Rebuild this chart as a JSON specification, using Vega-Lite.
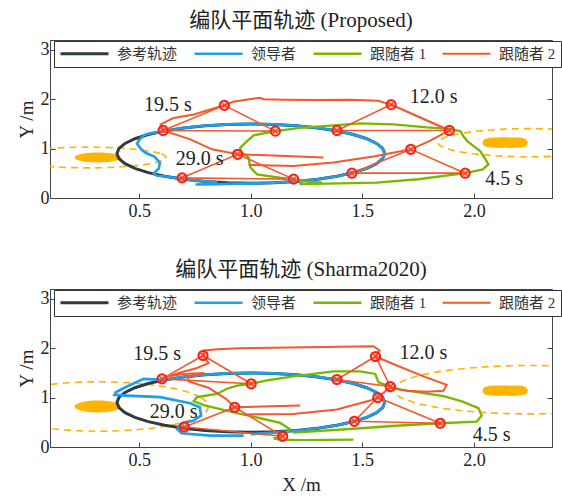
{
"$schema":"https://vega.github.io/schema/vega-lite/v6.json",
"padding":{"left":16,"top":9,"right":4,"bottom":4},
"spacing":37,
"config":{
 "font":"Liberation Serif, DejaVu Serif, serif",
 "view":{"stroke":"#444","strokeWidth":1},
 "axis":{"grid":false,"domainColor":"#444","tickColor":"#444","tickSize":-5,"labelFont":"Liberation Serif, DejaVu Serif, serif","labelFontSize":18,"labelColor":"#222","titleFont":"Liberation Serif, DejaVu Serif, serif","titleFontSize":19,"titleFontWeight":"normal","titleColor":"#222","labelPadding":6},
 "axisX":{"labelPadding":9,"titlePadding":6},
 "title":{"font":"Liberation Serif, DejaVu Serif, Noto Sans CJK SC, serif","fontSize":21,"fontWeight":"normal","color":"#222","offset":9},
 "legend":{"orient":"none","legendX":4,"legendY":1,"direction":"horizontal","columns":4,"title":null,"symbolType":"M-4,0H4","symbolSize":144,"symbolOffset":18,"labelOffset":25,"labelFontSize":15,"labelFont":"Liberation Serif, DejaVu Serif, Noto Sans CJK SC, serif","labelColor":"#333","fillColor":"white","strokeColor":"#333","padding":5,"columnPadding":11}
},
"datasets":{
"ref":[
{"o":0,"x":1.6,"y":0.9},{"o":1,"x":1.5909,"y":1.0042},{"o":2,"x":1.5638,"y":1.1052},{"o":3,"x":1.5196,"y":1.2},{"o":4,"x":1.4596,"y":1.2857},{"o":5,"x":1.3857,"y":1.3596},{"o":6,"x":1.3,"y":1.4196},{"o":7,"x":1.2052,"y":1.4638},{"o":8,"x":1.1042,"y":1.4909},{"o":9,"x":1.0,"y":1.5},{"o":10,"x":0.8958,"y":1.4909},{"o":11,"x":0.7948,"y":1.4638},{"o":12,"x":0.7,"y":1.4196},{"o":13,"x":0.6143,"y":1.3596},{"o":14,"x":0.5404,"y":1.2857},{"o":15,"x":0.4804,"y":1.2},{"o":16,"x":0.4362,"y":1.1052},{"o":17,"x":0.4091,"y":1.0042},{"o":18,"x":0.4,"y":0.9},{"o":19,"x":0.4091,"y":0.7958},{"o":20,"x":0.4362,"y":0.6948},{"o":21,"x":0.4804,"y":0.6},{"o":22,"x":0.5404,"y":0.5143},{"o":23,"x":0.6143,"y":0.4404},{"o":24,"x":0.7,"y":0.3804},{"o":25,"x":0.7948,"y":0.3362},{"o":26,"x":0.8958,"y":0.3091},{"o":27,"x":1.0,"y":0.3},{"o":28,"x":1.1042,"y":0.3091},{"o":29,"x":1.2052,"y":0.3362},{"o":30,"x":1.3,"y":0.3804},{"o":31,"x":1.3857,"y":0.4404},{"o":32,"x":1.4596,"y":0.5143},{"o":33,"x":1.5196,"y":0.6},{"o":34,"x":1.5638,"y":0.6948},{"o":35,"x":1.5909,"y":0.7958},{"o":36,"x":1.6,"y":0.9}
],
"traj":[
{"p":1,"s":"领导者","o":1,"x":0.752,"y":0.274},{"p":1,"s":"领导者","o":2,"x":0.85,"y":0.282},{"p":1,"s":"领导者","o":3,"x":0.95,"y":0.29},{"p":1,"s":"领导者","o":4,"x":1.05,"y":0.298},{"p":1,"s":"领导者","o":5,"x":1.1042,"y":0.3091},{"p":1,"s":"领导者","o":6,"x":1.2052,"y":0.3362},{"p":1,"s":"领导者","o":7,"x":1.3,"y":0.3804},{"p":1,"s":"领导者","o":8,"x":1.3857,"y":0.4404},{"p":1,"s":"领导者","o":9,"x":1.4596,"y":0.5143},{"p":1,"s":"领导者","o":10,"x":1.5196,"y":0.6},{"p":1,"s":"领导者","o":11,"x":1.5638,"y":0.6948},{"p":1,"s":"领导者","o":12,"x":1.5909,"y":0.7958},{"p":1,"s":"领导者","o":13,"x":1.6,"y":0.9},{"p":1,"s":"领导者","o":14,"x":1.5909,"y":1.0042},{"p":1,"s":"领导者","o":15,"x":1.5638,"y":1.1052},{"p":1,"s":"领导者","o":16,"x":1.5196,"y":1.2},{"p":1,"s":"领导者","o":17,"x":1.4596,"y":1.2857},{"p":1,"s":"领导者","o":18,"x":1.3857,"y":1.3596},{"p":1,"s":"领导者","o":19,"x":1.3,"y":1.4196},{"p":1,"s":"领导者","o":20,"x":1.2052,"y":1.4638},{"p":1,"s":"领导者","o":21,"x":1.1042,"y":1.4909},{"p":1,"s":"领导者","o":22,"x":1.0,"y":1.5},{"p":1,"s":"领导者","o":23,"x":0.8958,"y":1.4909},{"p":1,"s":"领导者","o":24,"x":0.7948,"y":1.4638},{"p":1,"s":"领导者","o":25,"x":0.7,"y":1.4196},{"p":1,"s":"领导者","o":26,"x":0.6143,"y":1.3596},{"p":1,"s":"领导者","o":27,"x":0.55,"y":1.31},{"p":1,"s":"领导者","o":28,"x":0.52,"y":1.27},{"p":1,"s":"领导者","o":29,"x":0.5,"y":1.18},{"p":1,"s":"领导者","o":30,"x":0.49,"y":1.1},{"p":1,"s":"领导者","o":31,"x":0.51,"y":0.98},{"p":1,"s":"领导者","o":32,"x":0.53,"y":0.91},{"p":1,"s":"领导者","o":33,"x":0.568,"y":0.84},{"p":1,"s":"领导者","o":34,"x":0.592,"y":0.72},{"p":1,"s":"领导者","o":35,"x":0.588,"y":0.6},{"p":1,"s":"领导者","o":36,"x":0.565,"y":0.5},{"p":1,"s":"领导者","o":37,"x":0.58,"y":0.45},{"p":1,"s":"领导者","o":38,"x":0.6143,"y":0.4404},{"p":1,"s":"领导者","o":39,"x":0.7,"y":0.3804},{"p":1,"s":"领导者","o":40,"x":0.7948,"y":0.3362},{"p":1,"s":"领导者","o":41,"x":0.85,"y":0.32},
{"p":1,"s":"跟随者 1","o":1,"x":1.218,"y":0.28},{"p":1,"s":"跟随者 1","o":2,"x":1.4,"y":0.295},{"p":1,"s":"跟随者 1","o":3,"x":1.565,"y":0.31},{"p":1,"s":"跟随者 1","o":4,"x":1.75,"y":0.38},{"p":1,"s":"跟随者 1","o":5,"x":1.961,"y":0.503},{"p":1,"s":"跟随者 1","o":6,"x":2.04,"y":0.58},{"p":1,"s":"跟随者 1","o":7,"x":2.065,"y":0.68},{"p":1,"s":"跟随者 1","o":8,"x":2.05,"y":0.8},{"p":1,"s":"跟随者 1","o":9,"x":2.028,"y":0.95},{"p":1,"s":"跟随者 1","o":10,"x":1.97,"y":1.15},{"p":1,"s":"跟随者 1","o":11,"x":1.953,"y":1.25},{"p":1,"s":"跟随者 1","o":12,"x":1.94,"y":1.35},{"p":1,"s":"跟随者 1","o":13,"x":1.89,"y":1.4},{"p":1,"s":"跟随者 1","o":14,"x":1.789,"y":1.43},{"p":1,"s":"跟随者 1","o":15,"x":1.64,"y":1.49},{"p":1,"s":"跟随者 1","o":16,"x":1.49,"y":1.51},{"p":1,"s":"跟随者 1","o":17,"x":1.372,"y":1.47},{"p":1,"s":"跟随者 1","o":18,"x":1.22,"y":1.42},{"p":1,"s":"跟随者 1","o":19,"x":1.11,"y":1.354},{"p":1,"s":"跟随者 1","o":20,"x":1.013,"y":1.27},{"p":1,"s":"跟随者 1","o":21,"x":0.983,"y":1.15},{"p":1,"s":"跟随者 1","o":22,"x":0.953,"y":1.02},{"p":1,"s":"跟随者 1","o":23,"x":0.955,"y":0.93},{"p":1,"s":"跟随者 1","o":24,"x":0.99,"y":0.82},{"p":1,"s":"跟随者 1","o":25,"x":0.998,"y":0.62},{"p":1,"s":"跟随者 1","o":26,"x":1.028,"y":0.48},{"p":1,"s":"跟随者 1","o":27,"x":1.13,"y":0.41},{"p":1,"s":"跟随者 1","o":28,"x":1.192,"y":0.382},{"p":1,"s":"跟随者 1","o":29,"x":1.25,"y":0.33},{"p":1,"s":"跟随者 1","o":30,"x":1.32,"y":0.31},
{"p":1,"s":"跟随者 2","o":1,"x":0.99,"y":0.67},{"p":1,"s":"跟随者 2","o":2,"x":1.19,"y":0.65},{"p":1,"s":"跟随者 2","o":3,"x":1.37,"y":0.72},{"p":1,"s":"跟随者 2","o":4,"x":1.55,"y":0.84},{"p":1,"s":"跟随者 2","o":5,"x":1.717,"y":0.986},{"p":1,"s":"跟随者 2","o":6,"x":1.8,"y":1.15},{"p":1,"s":"跟随者 2","o":7,"x":1.89,"y":1.368},{"p":1,"s":"跟随者 2","o":8,"x":1.76,"y":1.63},{"p":1,"s":"跟随者 2","o":9,"x":1.629,"y":1.891},{"p":1,"s":"跟随者 2","o":10,"x":1.57,"y":1.97},{"p":1,"s":"跟随者 2","o":11,"x":1.45,"y":1.99},{"p":1,"s":"跟随者 2","o":12,"x":1.3,"y":1.985},{"p":1,"s":"跟随者 2","o":13,"x":1.15,"y":1.99},{"p":1,"s":"跟随者 2","o":14,"x":1.06,"y":2.0},{"p":1,"s":"跟随者 2","o":15,"x":1.04,"y":2.03},{"p":1,"s":"跟随者 2","o":16,"x":0.98,"y":1.99},{"p":1,"s":"跟随者 2","o":17,"x":0.92,"y":1.95},{"p":1,"s":"跟随者 2","o":18,"x":0.88,"y":1.877},{"p":1,"s":"跟随者 2","o":19,"x":0.745,"y":1.69},{"p":1,"s":"跟随者 2","o":20,"x":0.654,"y":1.62},{"p":1,"s":"跟随者 2","o":21,"x":0.595,"y":1.49},{"p":1,"s":"跟随者 2","o":22,"x":0.607,"y":1.368},{"p":1,"s":"跟随者 2","o":23,"x":0.729,"y":1.187},{"p":1,"s":"跟随者 2","o":24,"x":0.826,"y":0.986},{"p":1,"s":"跟随者 2","o":25,"x":0.941,"y":0.885},{"p":1,"s":"跟随者 2","o":26,"x":1.1,"y":0.86},{"p":1,"s":"跟随者 2","o":27,"x":1.326,"y":0.82},
{"p":2,"s":"领导者","o":1,"x":1.0,"y":0.26},{"p":2,"s":"领导者","o":2,"x":1.1042,"y":0.29},{"p":2,"s":"领导者","o":3,"x":1.2052,"y":0.33},{"p":2,"s":"领导者","o":4,"x":1.3,"y":0.3804},{"p":2,"s":"领导者","o":5,"x":1.3857,"y":0.4404},{"p":2,"s":"领导者","o":6,"x":1.4596,"y":0.5143},{"p":2,"s":"领导者","o":7,"x":1.5196,"y":0.6},{"p":2,"s":"领导者","o":8,"x":1.5638,"y":0.6948},{"p":2,"s":"领导者","o":9,"x":1.5909,"y":0.7958},{"p":2,"s":"领导者","o":10,"x":1.6,"y":0.9},{"p":2,"s":"领导者","o":11,"x":1.5909,"y":1.0042},{"p":2,"s":"领导者","o":12,"x":1.5638,"y":1.1052},{"p":2,"s":"领导者","o":13,"x":1.5196,"y":1.2},{"p":2,"s":"领导者","o":14,"x":1.4596,"y":1.2857},{"p":2,"s":"领导者","o":15,"x":1.3857,"y":1.3596},{"p":2,"s":"领导者","o":16,"x":1.3,"y":1.4196},{"p":2,"s":"领导者","o":17,"x":1.2052,"y":1.4638},{"p":2,"s":"领导者","o":18,"x":1.1042,"y":1.4909},{"p":2,"s":"领导者","o":19,"x":1.0,"y":1.5},{"p":2,"s":"领导者","o":20,"x":0.8958,"y":1.4909},{"p":2,"s":"领导者","o":21,"x":0.7948,"y":1.4638},{"p":2,"s":"领导者","o":22,"x":0.7,"y":1.4196},{"p":2,"s":"领导者","o":23,"x":0.6143,"y":1.3596},{"p":2,"s":"领导者","o":24,"x":0.52,"y":1.38},{"p":2,"s":"领导者","o":25,"x":0.438,"y":1.21},{"p":2,"s":"领导者","o":26,"x":0.395,"y":1.11},{"p":2,"s":"领导者","o":27,"x":0.389,"y":1.055},{"p":2,"s":"领导者","o":28,"x":0.445,"y":1.04},{"p":2,"s":"领导者","o":29,"x":0.595,"y":1.01},{"p":2,"s":"领导者","o":30,"x":0.729,"y":0.886},{"p":2,"s":"领导者","o":31,"x":0.771,"y":0.805},{"p":2,"s":"领导者","o":32,"x":0.777,"y":0.636},{"p":2,"s":"领导者","o":33,"x":0.744,"y":0.535},{"p":2,"s":"领导者","o":34,"x":0.685,"y":0.467},{"p":2,"s":"领导者","o":35,"x":0.67,"y":0.365},{"p":2,"s":"领导者","o":36,"x":0.69,"y":0.278},{"p":2,"s":"领导者","o":37,"x":0.819,"y":0.231},{"p":2,"s":"领导者","o":38,"x":0.968,"y":0.231},
{"p":2,"s":"跟随者 1","o":1,"x":1.19,"y":0.29},{"p":2,"s":"跟随者 1","o":2,"x":1.46,"y":0.37},{"p":2,"s":"跟随者 1","o":3,"x":1.65,"y":0.43},{"p":2,"s":"跟随者 1","o":4,"x":1.849,"y":0.481},{"p":2,"s":"跟随者 1","o":5,"x":2.013,"y":0.515},{"p":2,"s":"跟随者 1","o":6,"x":2.035,"y":0.637},{"p":2,"s":"跟随者 1","o":7,"x":2.02,"y":0.785},{"p":2,"s":"跟随者 1","o":8,"x":1.95,"y":0.92},{"p":2,"s":"跟随者 1","o":9,"x":1.864,"y":1.03},{"p":2,"s":"跟随者 1","o":10,"x":1.67,"y":1.16},{"p":2,"s":"跟随者 1","o":11,"x":1.625,"y":1.225},{"p":2,"s":"跟随者 1","o":12,"x":1.572,"y":1.31},{"p":2,"s":"跟随者 1","o":13,"x":1.558,"y":1.48},{"p":2,"s":"跟随者 1","o":14,"x":1.49,"y":1.53},{"p":2,"s":"跟随者 1","o":15,"x":1.371,"y":1.53},{"p":2,"s":"跟随者 1","o":16,"x":1.19,"y":1.43},{"p":2,"s":"跟随者 1","o":17,"x":1.072,"y":1.35},{"p":2,"s":"跟随者 1","o":18,"x":1.002,"y":1.28},{"p":2,"s":"跟随者 1","o":19,"x":0.938,"y":1.245},{"p":2,"s":"跟随者 1","o":20,"x":0.893,"y":1.18},{"p":2,"s":"跟随者 1","o":21,"x":0.848,"y":1.075},{"p":2,"s":"跟随者 1","o":22,"x":0.759,"y":1.01},{"p":2,"s":"跟随者 1","o":23,"x":0.744,"y":0.93},{"p":2,"s":"跟随者 1","o":24,"x":0.789,"y":0.85},{"p":2,"s":"跟随者 1","o":25,"x":0.923,"y":0.7},{"p":2,"s":"跟随者 1","o":26,"x":1.043,"y":0.582},{"p":2,"s":"跟随者 1","o":27,"x":1.132,"y":0.487},{"p":2,"s":"跟随者 1","o":28,"x":1.174,"y":0.365},{"p":2,"s":"跟随者 1","o":29,"x":1.155,"y":0.264},{"p":2,"s":"跟随者 1","o":30,"x":1.143,"y":0.217},{"p":2,"s":"跟随者 1","o":31,"x":1.102,"y":0.176},{"p":2,"s":"跟随者 1","o":32,"x":1.13,"y":0.15},{"p":2,"s":"跟随者 1","o":33,"x":1.22,"y":0.14},{"p":2,"s":"跟随者 1","o":34,"x":1.46,"y":0.15},
{"p":2,"s":"跟随者 2","o":1,"x":0.97,"y":0.66},{"p":2,"s":"跟随者 2","o":2,"x":1.19,"y":0.67},{"p":2,"s":"跟随者 2","o":3,"x":1.386,"y":0.76},{"p":2,"s":"跟随者 2","o":4,"x":1.535,"y":0.94},{"p":2,"s":"跟随者 2","o":5,"x":1.569,"y":1.002},{"p":2,"s":"跟随者 2","o":6,"x":1.6,"y":1.12},{"p":2,"s":"跟随者 2","o":7,"x":1.625,"y":1.2},{"p":2,"s":"跟随者 2","o":8,"x":1.7,"y":1.14},{"p":2,"s":"跟随者 2","o":9,"x":1.79,"y":1.12},{"p":2,"s":"跟随者 2","o":10,"x":1.864,"y":1.14},{"p":2,"s":"跟随者 2","o":11,"x":1.878,"y":1.258},{"p":2,"s":"跟随者 2","o":12,"x":1.78,"y":1.42},{"p":2,"s":"跟随者 2","o":13,"x":1.66,"y":1.64},{"p":2,"s":"跟随者 2","o":14,"x":1.559,"y":1.833},{"p":2,"s":"跟随者 2","o":15,"x":1.577,"y":1.955},{"p":2,"s":"跟随者 2","o":16,"x":1.55,"y":2.04},{"p":2,"s":"跟随者 2","o":17,"x":1.4,"y":2.03},{"p":2,"s":"跟随者 2","o":18,"x":1.25,"y":2.02},{"p":2,"s":"跟随者 2","o":19,"x":1.1,"y":2.01},{"p":2,"s":"跟随者 2","o":20,"x":0.95,"y":2.0},{"p":2,"s":"跟随者 2","o":21,"x":0.85,"y":1.98},{"p":2,"s":"跟随者 2","o":22,"x":0.79,"y":1.955},{"p":2,"s":"跟随者 2","o":23,"x":0.786,"y":1.853},{"p":2,"s":"跟随者 2","o":24,"x":0.811,"y":1.7},{"p":2,"s":"跟随者 2","o":25,"x":0.759,"y":1.6},{"p":2,"s":"跟随者 2","o":26,"x":0.7,"y":1.53},{"p":2,"s":"跟随者 2","o":27,"x":0.62,"y":1.42},{"p":2,"s":"跟随者 2","o":28,"x":0.7,"y":1.48},{"p":2,"s":"跟随者 2","o":29,"x":0.79,"y":1.5},{"p":2,"s":"跟随者 2","o":30,"x":0.72,"y":1.42},{"p":2,"s":"跟随者 2","o":31,"x":0.72,"y":1.33},{"p":2,"s":"跟随者 2","o":32,"x":0.81,"y":1.2},{"p":2,"s":"跟随者 2","o":33,"x":0.89,"y":0.97},{"p":2,"s":"跟随者 2","o":34,"x":0.928,"y":0.805},{"p":2,"s":"跟随者 2","o":35,"x":1.05,"y":0.82},{"p":2,"s":"跟随者 2","o":36,"x":1.222,"y":0.84}
],
"obs":[
{"p":1,"id":"L","o":0,"x":0.62,"y":0.82},{"p":1,"id":"L","o":1,"x":0.5934,"y":0.9004},{"p":1,"id":"L","o":2,"x":0.5175,"y":0.9685},{"p":1,"id":"L","o":3,"x":0.4039,"y":1.014},{"p":1,"id":"L","o":4,"x":0.27,"y":1.03},{"p":1,"id":"L","o":5,"x":0.1361,"y":1.014},{"p":1,"id":"L","o":6,"x":0.0225,"y":0.9685},{"p":1,"id":"L","o":7,"x":-0.0534,"y":0.9004},{"p":1,"id":"L","o":8,"x":-0.08,"y":0.82},{"p":1,"id":"L","o":9,"x":-0.0534,"y":0.7396},{"p":1,"id":"L","o":10,"x":0.0225,"y":0.6715},{"p":1,"id":"L","o":11,"x":0.1361,"y":0.626},{"p":1,"id":"L","o":12,"x":0.27,"y":0.61},{"p":1,"id":"L","o":13,"x":0.4039,"y":0.626},{"p":1,"id":"L","o":14,"x":0.5175,"y":0.6715},{"p":1,"id":"L","o":15,"x":0.5934,"y":0.7396},
{"p":1,"id":"R","o":0,"x":2.66,"y":1.12},{"p":1,"id":"R","o":1,"x":2.6288,"y":1.2291},{"p":1,"id":"R","o":2,"x":2.5399,"y":1.3215},{"p":1,"id":"R","o":3,"x":2.4069,"y":1.3833},{"p":1,"id":"R","o":4,"x":2.25,"y":1.405},{"p":1,"id":"R","o":5,"x":2.0931,"y":1.3833},{"p":1,"id":"R","o":6,"x":1.9601,"y":1.3215},{"p":1,"id":"R","o":7,"x":1.8712,"y":1.2291},{"p":1,"id":"R","o":8,"x":1.84,"y":1.12},{"p":1,"id":"R","o":9,"x":1.8712,"y":1.0109},{"p":1,"id":"R","o":10,"x":1.9601,"y":0.9185},{"p":1,"id":"R","o":11,"x":2.0931,"y":0.8567},{"p":1,"id":"R","o":12,"x":2.25,"y":0.835},{"p":1,"id":"R","o":13,"x":2.4069,"y":0.8567},{"p":1,"id":"R","o":14,"x":2.5399,"y":0.9185},{"p":1,"id":"R","o":15,"x":2.6288,"y":1.0109},
{"p":2,"id":"L","o":0,"x":0.81,"y":0.82},{"p":2,"id":"L","o":1,"x":0.7727,"y":1.0114},{"p":2,"id":"L","o":2,"x":0.6665,"y":1.1736},{"p":2,"id":"L","o":3,"x":0.5075,"y":1.282},{"p":2,"id":"L","o":4,"x":0.32,"y":1.32},{"p":2,"id":"L","o":5,"x":0.1325,"y":1.282},{"p":2,"id":"L","o":6,"x":-0.0265,"y":1.1736},{"p":2,"id":"L","o":7,"x":-0.1327,"y":1.0114},{"p":2,"id":"L","o":8,"x":-0.17,"y":0.82},{"p":2,"id":"L","o":9,"x":-0.1327,"y":0.6287},{"p":2,"id":"L","o":10,"x":-0.0265,"y":0.4665},{"p":2,"id":"L","o":11,"x":0.1325,"y":0.3581},{"p":2,"id":"L","o":12,"x":0.32,"y":0.32},{"p":2,"id":"L","o":13,"x":0.5075,"y":0.3581},{"p":2,"id":"L","o":14,"x":0.6665,"y":0.4665},{"p":2,"id":"L","o":15,"x":0.7727,"y":0.6287},
{"p":2,"id":"R","o":0,"x":2.86,"y":1.16},{"p":2,"id":"R","o":1,"x":2.8136,"y":1.3475},{"p":2,"id":"R","o":2,"x":2.6813,"y":1.5065},{"p":2,"id":"R","o":3,"x":2.4834,"y":1.6127},{"p":2,"id":"R","o":4,"x":2.25,"y":1.65},{"p":2,"id":"R","o":5,"x":2.0166,"y":1.6127},{"p":2,"id":"R","o":6,"x":1.8187,"y":1.5065},{"p":2,"id":"R","o":7,"x":1.6864,"y":1.3475},{"p":2,"id":"R","o":8,"x":1.64,"y":1.16},{"p":2,"id":"R","o":9,"x":1.6864,"y":0.9725},{"p":2,"id":"R","o":10,"x":1.8187,"y":0.8135},{"p":2,"id":"R","o":11,"x":2.0166,"y":0.7073},{"p":2,"id":"R","o":12,"x":2.25,"y":0.67},{"p":2,"id":"R","o":13,"x":2.4834,"y":0.7073},{"p":2,"id":"R","o":14,"x":2.6813,"y":0.8135},{"p":2,"id":"R","o":15,"x":2.8136,"y":0.9725}
],
"blob":[
{"p":1,"id":"L","x":0.21,"y":0.82,"y2":0.82},{"p":1,"id":"L","x":0.2129,"y":0.796,"y2":0.844},{"p":1,"id":"L","x":0.2204,"y":0.7764,"y2":0.8636},{"p":1,"id":"L","x":0.2412,"y":0.7486,"y2":0.8914},{"p":1,"id":"L","x":0.2724,"y":0.7283,"y2":0.9117},{"p":1,"id":"L","x":0.314,"y":0.72,"y2":0.92},{"p":1,"id":"L","x":0.3556,"y":0.7283,"y2":0.9117},{"p":1,"id":"L","x":0.3868,"y":0.7486,"y2":0.8914},{"p":1,"id":"L","x":0.4076,"y":0.7764,"y2":0.8636},{"p":1,"id":"L","x":0.4151,"y":0.796,"y2":0.844},{"p":1,"id":"L","x":0.418,"y":0.82,"y2":0.82},
{"p":1,"id":"R","x":2.038,"y":1.12,"y2":1.12},{"p":1,"id":"R","x":2.0431,"y":1.07,"y2":1.17},{"p":1,"id":"R","x":2.0533,"y":1.04,"y2":1.2},{"p":1,"id":"R","x":2.0788,"y":1.025,"y2":1.22},{"p":1,"id":"R","x":2.1094,"y":1.015,"y2":1.225},{"p":1,"id":"R","x":2.14,"y":1.02,"y2":1.228},{"p":1,"id":"R","x":2.1706,"y":1.012,"y2":1.222},{"p":1,"id":"R","x":2.2012,"y":1.023,"y2":1.226},{"p":1,"id":"R","x":2.2267,"y":1.04,"y2":1.2},{"p":1,"id":"R","x":2.2369,"y":1.068,"y2":1.172},{"p":1,"id":"R","x":2.242,"y":1.12,"y2":1.12},
{"p":2,"id":"L","x":0.21,"y":0.82,"y2":0.82},{"p":2,"id":"L","x":0.2129,"y":0.791,"y2":0.849},{"p":2,"id":"L","x":0.2204,"y":0.7677,"y2":0.8723},{"p":2,"id":"L","x":0.2412,"y":0.7343,"y2":0.9057},{"p":2,"id":"L","x":0.2724,"y":0.71,"y2":0.93},{"p":2,"id":"L","x":0.314,"y":0.7,"y2":0.94},{"p":2,"id":"L","x":0.3556,"y":0.71,"y2":0.93},{"p":2,"id":"L","x":0.3868,"y":0.7343,"y2":0.9057},{"p":2,"id":"L","x":0.4076,"y":0.7677,"y2":0.8723},{"p":2,"id":"L","x":0.4151,"y":0.791,"y2":0.849},{"p":2,"id":"L","x":0.418,"y":0.82,"y2":0.82},
{"p":2,"id":"R","x":2.038,"y":1.14,"y2":1.14},{"p":2,"id":"R","x":2.0431,"y":1.09,"y2":1.19},{"p":2,"id":"R","x":2.0533,"y":1.06,"y2":1.22},{"p":2,"id":"R","x":2.0788,"y":1.045,"y2":1.24},{"p":2,"id":"R","x":2.1094,"y":1.035,"y2":1.245},{"p":2,"id":"R","x":2.14,"y":1.04,"y2":1.248},{"p":2,"id":"R","x":2.1706,"y":1.032,"y2":1.242},{"p":2,"id":"R","x":2.2012,"y":1.043,"y2":1.246},{"p":2,"id":"R","x":2.2267,"y":1.06,"y2":1.22},{"p":2,"id":"R","x":2.2369,"y":1.088,"y2":1.192},{"p":2,"id":"R","x":2.242,"y":1.14,"y2":1.14}
],
"tri":[
{"p":1,"t":"19.5","o":0,"x":0.607,"y":1.368},{"p":1,"t":"19.5","o":1,"x":0.8815,"y":1.877},{"p":1,"t":"19.5","o":2,"x":1.11,"y":1.354},{"p":1,"t":"19.5","o":3,"x":0.607,"y":1.368},
{"p":1,"t":"29.0","o":0,"x":0.692,"y":0.408},{"p":1,"t":"29.0","o":1,"x":0.941,"y":0.885},{"p":1,"t":"29.0","o":2,"x":1.192,"y":0.382},{"p":1,"t":"29.0","o":3,"x":0.692,"y":0.408},
{"p":1,"t":"12.0","o":0,"x":1.386,"y":1.368},{"p":1,"t":"12.0","o":1,"x":1.629,"y":1.891},{"p":1,"t":"12.0","o":2,"x":1.89,"y":1.368},{"p":1,"t":"12.0","o":3,"x":1.386,"y":1.368},
{"p":1,"t":"4.5","o":0,"x":1.453,"y":0.503},{"p":1,"t":"4.5","o":1,"x":1.717,"y":0.986},{"p":1,"t":"4.5","o":2,"x":1.961,"y":0.503},{"p":1,"t":"4.5","o":3,"x":1.453,"y":0.503},
{"p":2,"t":"19.5","o":0,"x":0.602,"y":1.38},{"p":2,"t":"19.5","o":1,"x":0.786,"y":1.853},{"p":2,"t":"19.5","o":2,"x":1.002,"y":1.28},{"p":2,"t":"19.5","o":3,"x":0.602,"y":1.38},
{"p":2,"t":"29.0","o":0,"x":0.702,"y":0.406},{"p":2,"t":"29.0","o":1,"x":0.928,"y":0.805},{"p":2,"t":"29.0","o":2,"x":1.143,"y":0.217},{"p":2,"t":"29.0","o":3,"x":0.702,"y":0.406},
{"p":2,"t":"12.0","o":0,"x":1.386,"y":1.367},{"p":2,"t":"12.0","o":1,"x":1.559,"y":1.833},{"p":2,"t":"12.0","o":2,"x":1.625,"y":1.225},{"p":2,"t":"12.0","o":3,"x":1.386,"y":1.367},
{"p":2,"t":"4.5","o":0,"x":1.464,"y":0.521},{"p":2,"t":"4.5","o":1,"x":1.569,"y":1.002},{"p":2,"t":"4.5","o":2,"x":1.849,"y":0.481},{"p":2,"t":"4.5","o":3,"x":1.464,"y":0.521}
],
"lab":[
{"p":1,"x":0.628,"y":1.89,"t":"19.5 s"},{"p":1,"x":0.771,"y":0.785,"t":"29.0 s"},{"p":1,"x":1.819,"y":2.04,"t":"12.0 s"},{"p":1,"x":2.136,"y":0.382,"t":"4.5 s"},
{"p":2,"x":0.58,"y":1.886,"t":"19.5 s"},{"p":2,"x":0.654,"y":0.704,"t":"29.0 s"},{"p":2,"x":1.774,"y":1.905,"t":"12.0 s"},{"p":2,"x":2.08,"y":0.247,"t":"4.5 s"}
]
},
"resolve":{"scale":{"color":"independent","strokeWidth":"independent"},"legend":{"color":"independent","strokeWidth":"independent"}},
"vconcat":[
{"width":502,"height":158,"title":{"text":"编队平面轨迹 (Proposed)"},
 "resolve":{"axis":{"x":"independent","y":"independent"}},
 "layer":[
 {"data":{"name":"obs"},"transform":[{"filter":"datum.p==1"}],
  "mark":{"type":"line","clip":true,"interpolate":"cardinal-closed","strokeDash":[7,5],"color":"#FFB400","strokeWidth":1.6},
  "encoding":{"x":{"field":"x","type":"quantitative","scale":{"domain":[0.1,2.35],"nice":false,"zero":false},"axis":{"values":[0.5,1,1.5,2],"format":".1f","title":null}},
   "y":{"field":"y","type":"quantitative","scale":{"domain":[0,3.2],"nice":false,"zero":false},"axis":{"values":[0,1,2,3],"title":"Y /m"}},
   "detail":{"field":"id"},"order":{"field":"o","type":"quantitative"}}},
 {"data":{"name":"blob"},"transform":[{"filter":"datum.p==1"}],
  "mark":{"type":"area","clip":true,"interpolate":"monotone","color":"#FFB400"},
  "encoding":{"x":{"field":"x","type":"quantitative","scale":{"domain":[0.1,2.35],"nice":false,"zero":false},"axis":null},
   "y":{"field":"y","type":"quantitative","scale":{"domain":[0,3.2],"nice":false,"zero":false},"axis":null},
   "y2":{"field":"y2"},"detail":{"field":"id"}}},
 {"data":{"name":"ref"},"transform":[{"calculate":"'参考轨迹'","as":"s"}],
  "mark":{"type":"line","clip":true},
  "encoding":{"x":{"field":"x","type":"quantitative","scale":{"domain":[0.1,2.35],"nice":false,"zero":false},"axis":null},
   "y":{"field":"y","type":"quantitative","scale":{"domain":[0,3.2],"nice":false,"zero":false},"axis":null},
   "order":{"field":"o","type":"quantitative"},
   "color":{"field":"s","type":"nominal","scale":{"domain":["参考轨迹","领导者","跟随者 1","跟随者 2"],"range":["#2E3B40","#1E9FE6","#7AB800","#F5582A"]}},
   "strokeWidth":{"field":"s","type":"nominal","scale":{"domain":["参考轨迹","领导者","跟随者 1","跟随者 2"],"range":[3,2,1.6,1.6]}}}},
 {"data":{"name":"traj"},"transform":[{"filter":"datum.p==1"}],
  "mark":{"type":"line","clip":true},
  "encoding":{"x":{"field":"x","type":"quantitative","scale":{"domain":[0.1,2.35],"nice":false,"zero":false},"axis":null},
   "y":{"field":"y","type":"quantitative","scale":{"domain":[0,3.2],"nice":false,"zero":false},"axis":null},
   "order":{"field":"o","type":"quantitative"},
   "color":{"field":"s","type":"nominal","scale":{"domain":["参考轨迹","领导者","跟随者 1","跟随者 2"],"range":["#2E3B40","#1E9FE6","#7AB800","#F5582A"]}},
   "strokeWidth":{"field":"s","type":"nominal","scale":{"domain":["参考轨迹","领导者","跟随者 1","跟随者 2"],"range":[3,2,1.6,1.6]}}}},
 {"data":{"name":"tri"},"transform":[{"filter":"datum.p==1"}],
  "mark":{"type":"line","color":"#F5582A","strokeWidth":1.6},
  "encoding":{"x":{"field":"x","type":"quantitative","scale":{"domain":[0.1,2.35],"nice":false,"zero":false},"axis":null},
   "y":{"field":"y","type":"quantitative","scale":{"domain":[0,3.2],"nice":false,"zero":false},"axis":null},
   "detail":{"field":"t"},"order":{"field":"o","type":"quantitative"}}},
 {"data":{"name":"tri"},"transform":[{"filter":"datum.p==1 && datum.o<3"}],
  "mark":{"type":"point","shape":"circle","size":85,"stroke":"#FF1A1A","strokeWidth":2,"fill":"#FF7A4A","fillOpacity":0.35,"filled":false,"opacity":1},
  "encoding":{"x":{"field":"x","type":"quantitative","scale":{"domain":[0.1,2.35],"nice":false,"zero":false},"axis":null},
   "y":{"field":"y","type":"quantitative","scale":{"domain":[0,3.2],"nice":false,"zero":false},"axis":null}}},
 {"data":{"name":"tri"},"transform":[{"filter":"datum.p==1 && datum.o<3"}],
  "mark":{"type":"point","shape":"M-1,-1L1,1M-1,1L1,-1","size":30,"stroke":"#FF3A1A","strokeWidth":1.2,"filled":false,"opacity":1},
  "encoding":{"x":{"field":"x","type":"quantitative","scale":{"domain":[0.1,2.35],"nice":false,"zero":false},"axis":null},
   "y":{"field":"y","type":"quantitative","scale":{"domain":[0,3.2],"nice":false,"zero":false},"axis":null}}},
 {"data":{"name":"lab"},"transform":[{"filter":"datum.p==1"}],
  "mark":{"type":"text","font":"Liberation Serif, DejaVu Serif, serif","fontSize":20,"color":"#222"},
  "encoding":{"x":{"field":"x","type":"quantitative","scale":{"domain":[0.1,2.35],"nice":false,"zero":false},"axis":null},
   "y":{"field":"y","type":"quantitative","scale":{"domain":[0,3.2],"nice":false,"zero":false},"axis":{"orient":"right","values":[0,1,2,3],"labels":false,"title":null,"domain":false}},
   "text":{"field":"t"}}}
 ]},
{"width":502,"height":158,"title":{"text":"编队平面轨迹 (Sharma2020)"},
 "resolve":{"axis":{"x":"independent","y":"independent"}},
 "layer":[
 {"data":{"name":"obs"},"transform":[{"filter":"datum.p==2"}],
  "mark":{"type":"line","clip":true,"interpolate":"cardinal-closed","strokeDash":[7,5],"color":"#FFB400","strokeWidth":1.6},
  "encoding":{"x":{"field":"x","type":"quantitative","scale":{"domain":[0.1,2.35],"nice":false,"zero":false},"axis":{"values":[0.5,1,1.5,2],"format":".1f","title":"X /m"}},
   "y":{"field":"y","type":"quantitative","scale":{"domain":[0,3.2],"nice":false,"zero":false},"axis":{"values":[0,1,2,3],"title":"Y /m"}},
   "detail":{"field":"id"},"order":{"field":"o","type":"quantitative"}}},
 {"data":{"name":"blob"},"transform":[{"filter":"datum.p==2"}],
  "mark":{"type":"area","clip":true,"interpolate":"monotone","color":"#FFB400"},
  "encoding":{"x":{"field":"x","type":"quantitative","scale":{"domain":[0.1,2.35],"nice":false,"zero":false},"axis":null},
   "y":{"field":"y","type":"quantitative","scale":{"domain":[0,3.2],"nice":false,"zero":false},"axis":null},
   "y2":{"field":"y2"},"detail":{"field":"id"}}},
 {"data":{"name":"ref"},"transform":[{"calculate":"'参考轨迹'","as":"s"}],
  "mark":{"type":"line","clip":true},
  "encoding":{"x":{"field":"x","type":"quantitative","scale":{"domain":[0.1,2.35],"nice":false,"zero":false},"axis":null},
   "y":{"field":"y","type":"quantitative","scale":{"domain":[0,3.2],"nice":false,"zero":false},"axis":null},
   "order":{"field":"o","type":"quantitative"},
   "color":{"field":"s","type":"nominal","scale":{"domain":["参考轨迹","领导者","跟随者 1","跟随者 2"],"range":["#2E3B40","#1E9FE6","#7AB800","#F5582A"]}},
   "strokeWidth":{"field":"s","type":"nominal","scale":{"domain":["参考轨迹","领导者","跟随者 1","跟随者 2"],"range":[3,2,1.6,1.6]}}}},
 {"data":{"name":"traj"},"transform":[{"filter":"datum.p==2"}],
  "mark":{"type":"line","clip":true},
  "encoding":{"x":{"field":"x","type":"quantitative","scale":{"domain":[0.1,2.35],"nice":false,"zero":false},"axis":null},
   "y":{"field":"y","type":"quantitative","scale":{"domain":[0,3.2],"nice":false,"zero":false},"axis":null},
   "order":{"field":"o","type":"quantitative"},
   "color":{"field":"s","type":"nominal","scale":{"domain":["参考轨迹","领导者","跟随者 1","跟随者 2"],"range":["#2E3B40","#1E9FE6","#7AB800","#F5582A"]}},
   "strokeWidth":{"field":"s","type":"nominal","scale":{"domain":["参考轨迹","领导者","跟随者 1","跟随者 2"],"range":[3,2,1.6,1.6]}}}},
 {"data":{"name":"tri"},"transform":[{"filter":"datum.p==2"}],
  "mark":{"type":"line","color":"#F5582A","strokeWidth":1.6},
  "encoding":{"x":{"field":"x","type":"quantitative","scale":{"domain":[0.1,2.35],"nice":false,"zero":false},"axis":null},
   "y":{"field":"y","type":"quantitative","scale":{"domain":[0,3.2],"nice":false,"zero":false},"axis":null},
   "detail":{"field":"t"},"order":{"field":"o","type":"quantitative"}}},
 {"data":{"name":"tri"},"transform":[{"filter":"datum.p==2 && datum.o<3"}],
  "mark":{"type":"point","shape":"circle","size":85,"stroke":"#FF1A1A","strokeWidth":2,"fill":"#FF7A4A","fillOpacity":0.35,"filled":false,"opacity":1},
  "encoding":{"x":{"field":"x","type":"quantitative","scale":{"domain":[0.1,2.35],"nice":false,"zero":false},"axis":null},
   "y":{"field":"y","type":"quantitative","scale":{"domain":[0,3.2],"nice":false,"zero":false},"axis":null}}},
 {"data":{"name":"tri"},"transform":[{"filter":"datum.p==2 && datum.o<3"}],
  "mark":{"type":"point","shape":"M-1,-1L1,1M-1,1L1,-1","size":30,"stroke":"#FF3A1A","strokeWidth":1.2,"filled":false,"opacity":1},
  "encoding":{"x":{"field":"x","type":"quantitative","scale":{"domain":[0.1,2.35],"nice":false,"zero":false},"axis":null},
   "y":{"field":"y","type":"quantitative","scale":{"domain":[0,3.2],"nice":false,"zero":false},"axis":null}}},
 {"data":{"name":"lab"},"transform":[{"filter":"datum.p==2"}],
  "mark":{"type":"text","font":"Liberation Serif, DejaVu Serif, serif","fontSize":20,"color":"#222"},
  "encoding":{"x":{"field":"x","type":"quantitative","scale":{"domain":[0.1,2.35],"nice":false,"zero":false},"axis":null},
   "y":{"field":"y","type":"quantitative","scale":{"domain":[0,3.2],"nice":false,"zero":false},"axis":{"orient":"right","values":[0,1,2,3],"labels":false,"title":null,"domain":false}},
   "text":{"field":"t"}}}
 ]}
]
}
